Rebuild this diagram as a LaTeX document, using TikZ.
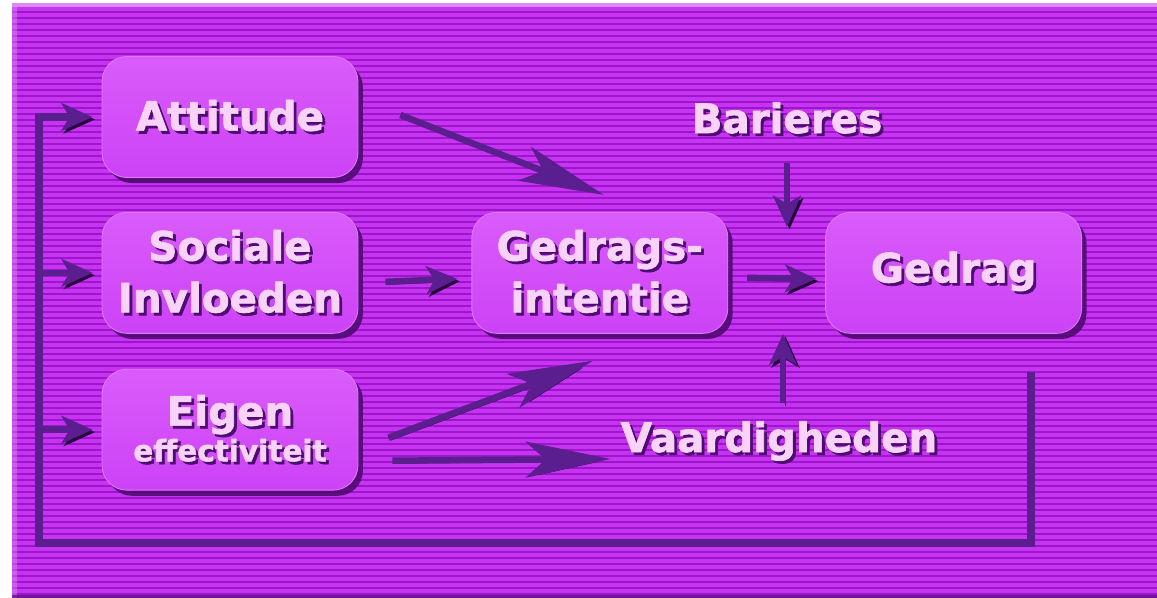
\documentclass[tikz,border=0pt]{standalone}
\usepackage{fontspec}
\setmainfont{DejaVu Sans}[BoldFeatures={FakeBold=1.6}]
\usepackage{tikz}
\usetikzlibrary{positioning, calc, arrows.meta, shadows}
\definecolor{achtergrond}{HTML}{C634F2}
\definecolor{streep}{HTML}{9C16CC}
\definecolor{rand}{HTML}{DA8CF4}
\definecolor{vakdonker}{HTML}{CC42F6}
\definecolor{vaklicht}{HTML}{D95CFA}
\definecolor{vakrand}{HTML}{DE78FA}
\definecolor{letter}{HTML}{F8D2F8}
\definecolor{schaduw}{HTML}{4E0C70}
\definecolor{pijlkleur}{HTML}{5A1E8E}
\definecolor{pijlschaduw}{HTML}{2A0640}
\newcommand{\schaduwtekst}[1]{\makebox[0pt][l]{\kern1.6pt\raisebox{-1.6pt}{\textcolor{schaduw}{#1}}}#1}

\begin{document}
\begin{tikzpicture}[x=0.02cm, y=-0.02cm,
vak/.style={rectangle, rounded corners=0.5cm, minimum width=5.12cm, minimum height=2.42cm,
  top color=vaklicht, bottom color=vakdonker, draw=vakrand, line width=0.5pt,
  drop shadow={shadow xshift=2.8pt, shadow yshift=-3.2pt, fill=schaduw, opacity=0.9},
  align=center, text=letter, font=\fontsize{23}{29.5}\selectfont\bfseries},
opschrift/.style={text=letter, inner sep=1pt, anchor=base, font=\fontsize{23}{23}\selectfont\bfseries},
pijl/.style={line width=0.13cm, draw=pijlkleur, -{Stealth[length=1.7cm, width=0.72cm, inset=0.4cm]},
  preaction={draw=pijlschaduw, transform canvas={shift={(1.4pt,-1.4pt)}}}},
pijl klein/.style={pijl, -{Stealth[length=0.62cm, width=0.55cm, inset=0.16cm]}},
lus/.style={line width=0.15cm, draw=pijlkleur, line join=miter,
  preaction={draw=pijlschaduw, transform canvas={shift={(1.4pt,-1.4pt)}}}}]
\useasboundingbox (0,0) rectangle (1157,598);
\fill[white] (0,0) rectangle (1157,598);
\fill[achtergrond] (12,3) rectangle (1157,598);
\foreach \y in {6,12,...,594}
  \draw[streep, line width=0.05cm] (12,\y) -- (1157,\y);
\fill[rand] (12,3) rectangle (1157,7);
\fill[rand, opacity=0.45] (12,3) rectangle (17,598);
\fill[schaduw, opacity=0.7] (12,595) rectangle (1157,598);

\node[vak] (att) at (230,117) {\schaduwtekst{Attitude}};
\node[vak, below=0.68cm of att] (soc) {\schaduwtekst{Sociale}\\\schaduwtekst{Invloeden}};
\node[vak, below=0.7cm of soc] (eig) [font=\fontsize{16.8}{19.3}\selectfont\bfseries]
  {{\fontsize{23}{19.3}\selectfont\schaduwtekst{Eigen}}\\\schaduwtekst{effectiviteit}};
\node[vak, right=2.26cm of soc] (gi) {\schaduwtekst{Gedrags-}\\\schaduwtekst{intentie}};
\node[vak, right=1.94cm of gi] (ged) {\schaduwtekst{Gedrag}};
\node[opschrift] (bar) at (787,133) {\schaduwtekst{Barieres}};
\node[opschrift] (vaa) at (779,452) {\schaduwtekst{Vaardigheden}};

\coordinate (kruispunt) at (gi.east -| bar);
\coordinate (terug) at ($(ged.south east)+(-51,38)$);
\coordinate (hoek) at (39,543);

\draw[pijl] ($(att.east)+(42,-2)$) -- ($(gi.north)+(4,-17)$);
\draw[pijl klein] ($(soc.east)+(27,9)$) -- ($(gi.west)+(-14,6)$);
\draw[pijl] ($(eig.east)+(30,8)$) -- ($(gi.south)+(-7,27)$);
\draw[pijl] ($(eig.east)+(34,31)$) -- ($(vaa.base west)+(-8,7)$);
\draw[pijl klein] ($(gi.east)+(19,5)$) -- ($(ged.west)+(-9,6)$);
\draw[pijl klein, shorten <=0.5cm, shorten >=0.92cm] (bar.south) -- (kruispunt);
\draw[pijl klein, shorten >=1.22cm] ($(vaa.north -| kruispunt)+(-4,-16)$) -- ($(kruispunt)+(-4,0)$);

\draw[pijl klein, shorten >=0.18cm] (soc.west -| hoek) -- (soc.west);
\draw[pijl klein, shorten >=0.18cm] (eig.west -| hoek) -- (eig.west);
\draw[lus, -{Stealth[length=0.62cm, width=0.55cm, inset=0.16cm]}, shorten >=0.18cm]
  (terug) |- (hoek) |- (att.west);
\end{tikzpicture}
\end{document}
